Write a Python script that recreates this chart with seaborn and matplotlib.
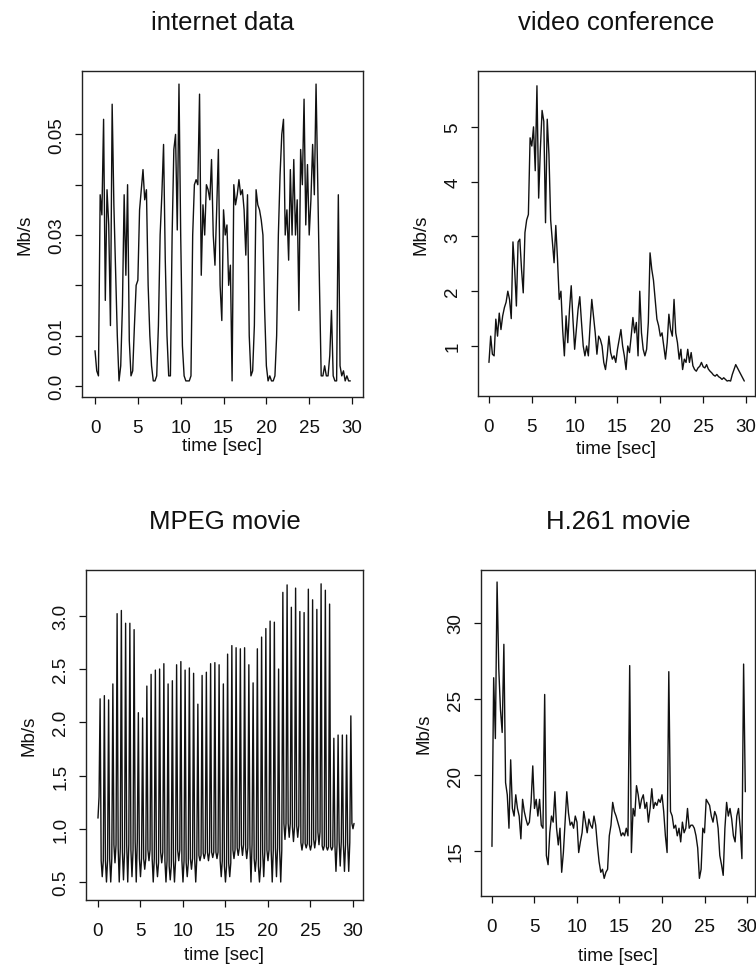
import numpy as np
import pandas as pd
import seaborn as sns
import matplotlib.pyplot as plt

# rates, one value every 0.2 s
internet = [0.007, 0.003, 0.002, 0.038, 0.034, 0.053, 0.017, 0.039, 0.032, 0.012,
            0.056, 0.036, 0.023, 0.010, 0.001, 0.004, 0.016, 0.038, 0.022, 0.040,
            0.009, 0.002, 0.003, 0.012, 0.020, 0.021, 0.035, 0.039, 0.043, 0.037,
            0.039, 0.020, 0.010, 0.004, 0.001, 0.001, 0.002, 0.012, 0.030, 0.038,
            0.048, 0.025, 0.010, 0.002, 0.002, 0.030, 0.047, 0.050, 0.031, 0.060,
            0.030, 0.008, 0.002, 0.001, 0.001, 0.001, 0.002, 0.030, 0.040, 0.041,
            0.040, 0.058, 0.022, 0.036, 0.030, 0.040, 0.039, 0.037, 0.045, 0.030,
            0.024, 0.035, 0.047, 0.020, 0.013, 0.035, 0.030, 0.032, 0.020, 0.024,
            0.001, 0.040, 0.036, 0.038, 0.041, 0.038, 0.039, 0.035, 0.026, 0.038,
            0.010, 0.002, 0.003, 0.012, 0.039, 0.036, 0.035, 0.033, 0.030, 0.015,
            0.004, 0.001, 0.002, 0.001, 0.001, 0.002, 0.010, 0.030, 0.042, 0.050,
            0.053, 0.030, 0.035, 0.025, 0.043, 0.030, 0.045, 0.030, 0.037, 0.015,
            0.047, 0.040, 0.057, 0.032, 0.044, 0.030, 0.037, 0.048, 0.038, 0.060,
            0.040, 0.020, 0.002, 0.002, 0.004, 0.002, 0.002, 0.006, 0.015, 0.002,
            0.001, 0.001, 0.038, 0.004, 0.002, 0.003, 0.001, 0.002, 0.001, 0.001]

video = [0.70, 1.18, 0.85, 0.82, 1.49, 1.18, 1.60, 1.30, 1.55, 1.70,
         1.80, 2.00, 1.85, 1.50, 2.90, 2.40, 1.73, 2.90, 2.95, 2.40,
         1.97, 3.07, 3.30, 3.40, 4.80, 4.65, 5.00, 4.20, 5.75, 3.70,
         4.60, 5.30, 5.10, 3.25, 5.14, 4.50, 3.30, 2.90, 2.52, 3.20,
         2.58, 1.85, 2.00, 1.30, 0.82, 1.55, 1.06, 1.67, 2.10, 1.49,
         0.94, 1.30, 1.67, 1.90, 1.43, 1.00, 0.82, 1.00, 0.82, 1.37,
         1.85, 1.55, 1.24, 0.85, 1.18, 1.12, 1.00, 0.70, 0.57, 0.82,
         1.18, 0.88, 0.76, 0.82, 0.70, 0.94, 1.12, 1.30, 1.00, 0.82,
         0.57, 1.00, 0.88, 1.18, 1.52, 1.24, 1.43, 0.82, 2.00, 1.24,
         0.94, 0.82, 0.94, 1.43, 2.70, 2.40, 2.20, 1.85, 1.49, 1.37,
         1.18, 1.24, 1.00, 0.76, 1.06, 1.58, 1.30, 1.18, 1.85, 1.24,
         1.06, 0.76, 0.94, 0.57, 0.76, 0.70, 0.94, 0.70, 0.88, 0.64,
         0.57, 0.54, 0.60, 0.63, 0.70, 0.62, 0.60, 0.66, 0.58, 0.54,
         0.51, 0.47, 0.45, 0.48, 0.44, 0.42, 0.39, 0.42, 0.39, 0.36,
         0.37, 0.36, 0.48, 0.57, 0.66, 0.60, 0.54, 0.48, 0.42, 0.36]

h261 = [15.3, 26.4, 22.4, 32.7, 27.0, 24.3, 22.8, 28.6, 19.5, 18.7,
        16.5, 21.0, 17.8, 17.3, 18.7, 17.8, 17.3, 15.8, 18.4, 17.6,
        17.1, 16.7, 16.9, 18.2, 20.6, 17.8, 18.4, 17.3, 18.4, 16.7,
        16.5, 25.3, 14.7, 14.1, 16.2, 17.3, 16.9, 18.9, 16.5, 15.4,
        16.5, 13.6, 14.9, 16.9, 18.9, 17.5, 16.7, 16.9, 16.5, 17.3,
        16.9, 14.9, 15.6, 16.2, 17.6, 16.9, 16.2, 17.1, 16.7, 16.5,
        17.3, 16.7, 15.4, 14.3, 13.6, 13.8, 13.2, 13.6, 13.8, 16.0,
        16.7, 18.2, 17.6, 17.3, 16.9, 16.5, 16.0, 16.2, 16.0, 16.5,
        16.0, 27.2, 14.9, 17.8, 17.3, 19.3, 18.7, 17.8, 18.4, 18.7,
        17.8, 18.2, 16.9, 17.8, 19.1, 17.8, 18.2, 18.0, 18.4, 18.2,
        18.7, 17.6, 16.0, 14.9, 26.8, 17.6, 17.3, 16.5, 16.7, 16.0,
        16.5, 15.6, 16.9, 16.2, 16.5, 17.8, 16.5, 16.7, 16.7, 16.5,
        16.0, 15.2, 13.2, 13.8, 16.5, 16.2, 18.4, 18.2, 18.0, 17.3,
        16.9, 17.6, 17.3, 16.5, 14.7, 14.1, 13.4, 16.5, 18.2, 17.3,
        17.8, 17.1, 16.0, 15.6, 17.3, 17.8, 16.5, 14.5, 27.3, 18.9]

# MPEG: one I-frame peak every 0.5 s, with the level and the lowest dip in between
mpeg_lead = [1.10, 1.30]
mpeg_peak = [2.22, 2.25, 2.21, 2.36, 3.02, 3.05, 2.93, 2.93, 2.87, 2.09,
             2.04, 2.34, 2.45, 2.49, 2.50, 2.55, 2.36, 2.39, 2.54, 2.57,
             2.49, 2.51, 2.46, 2.17, 2.44, 2.47, 2.55, 2.56, 2.54, 2.36,
             2.64, 2.72, 2.70, 2.69, 2.70, 2.54, 2.37, 2.69, 2.80, 2.88,
             2.95, 2.94, 2.50, 3.22, 3.29, 3.08, 3.26, 3.04, 3.03, 3.25,
             3.15, 3.06, 3.30, 3.24, 3.11, 1.85, 1.88, 1.88, 1.88, 2.06]
mpeg_base = [0.70, 0.70, 0.72, 0.85, 0.82, 0.78, 0.85, 0.80, 0.88, 0.72,
             0.72, 0.80, 0.72, 0.68, 0.78, 0.70, 0.65, 0.70, 0.80, 0.70,
             0.68, 0.72, 0.72, 0.75, 0.77, 0.78, 0.78, 0.78, 0.70, 0.65,
             0.68, 0.80, 0.82, 0.85, 0.82, 0.85, 0.72, 0.65, 0.78, 0.80,
             0.80, 0.82, 0.80, 1.05, 1.05, 1.02, 1.03, 0.87, 0.86, 0.85,
             0.90, 0.97, 0.84, 0.83, 0.83, 0.85, 0.88, 0.85, 0.87, 1.05]
mpeg_dip = [0.55, 0.50, 0.50, 0.68, 0.50, 0.52, 0.50, 0.55, 0.50, 0.55,
            0.62, 0.70, 0.50, 0.55, 0.68, 0.50, 0.52, 0.50, 0.70, 0.50,
            0.55, 0.62, 0.50, 0.70, 0.72, 0.70, 0.73, 0.72, 0.55, 0.50,
            0.55, 0.72, 0.75, 0.75, 0.72, 0.50, 0.60, 0.50, 0.55, 0.70,
            0.50, 0.55, 0.50, 0.90, 0.92, 0.88, 0.92, 0.80, 0.82, 0.80,
            0.82, 0.85, 0.80, 0.80, 0.80, 0.60, 0.65, 0.60, 0.60, 1.00]

mpeg = list(mpeg_lead)
for pk, b, d in zip(mpeg_peak, mpeg_base, mpeg_dip):
    mpeg += [pk, b, d, b]


def to_df(vals, dt):
    return pd.DataFrame({'t': np.arange(len(vals)) * dt, 'rate': vals})


sns.set_theme(style="ticks")
plt.rcParams['font.family'] = ['Liberation Sans', 'DejaVu Sans']
plt.rcParams['axes.linewidth'] = 1.0

W, H = 756, 978
fig = plt.figure(figsize=(W / 100, H / 100), dpi=100)

# title, data, box in pixels (l, r, t, b), x limits, y limits, y ticks, y tick labels,
# pixel centre of the x label
panels = [
    ("internet data", to_df(internet, 0.2), (82, 363, 72, 398), (-1.52, 31.28),
     (-0.0022, 0.0626), [0, 0.01, 0.02, 0.03, 0.04, 0.05],
     ["0.0", "0.01", "", "0.03", "", "0.05"], 447),
    ("video conference", to_df(video, 0.2), (478, 755, 72, 397), (-1.28, 31.05),
     (0.087, 6.02), [1, 2, 3, 4, 5], ["1", "2", "3", "4", "5"], 450),
    ("MPEG movie", to_df(mpeg, 0.125), (86, 363, 571, 901), (-1.41, 31.18),
     (0.331, 3.43), [0.5, 1.0, 1.5, 2.0, 2.5, 3.0],
     ["0.5", "1.0", "1.5", "2.0", "2.5", "3.0"], 956),
    ("H.261 movie", to_df(h261, 0.2), (481, 755, 571, 897), (-1.29, 30.94),
     (12.04, 33.49), [15, 20, 25, 30], ["15", "20", "25", "30"], 957),
]

for title, df, (l, r, t, b), xlim, ylim, yt, ytl, xl_y in panels:
    ax = fig.add_axes([l / W, 1 - b / H, (r - l) / W, (b - t) / H])
    sns.lineplot(data=df, x='t', y='rate', ax=ax, color='#111111',
                 linewidth=1.0, estimator=None, errorbar=None)
    ax.set_xlim(*xlim)
    ax.set_ylim(*ylim)
    ax.set_xticks([0, 5, 10, 15, 20, 25, 30])
    ax.set_yticks(yt)
    ax.set_yticklabels(ytl)
    ax.tick_params(direction='out', length=5, width=0.9, labelsize=13.5,
                   colors='#111111')
    ax.tick_params(axis='x', pad=11)
    ax.tick_params(axis='y', pad=7, labelrotation=90)
    for lab in ax.get_yticklabels():
        lab.set_va('center')
    for sp in ax.spines.values():
        sp.set_visible(True)
        sp.set_color('#222222')
    ax.set_xlabel("time [sec]", fontsize=13.5, color='#111111')
    ax.set_ylabel("Mb/s", fontsize=13.5, color='#111111')
    ax.xaxis.label.set_va('center')
    ax.yaxis.label.set_va('center')
    ax.xaxis.set_label_coords(0.5, (b - xl_y) / (b - t))
    ax.yaxis.set_label_coords(-57 / (r - l), 0.5)
    fig.text((l + r) / 2 / W, 1 - (t - 49) / H, title, ha='center', va='center',
             fontsize=18.5, color='#111111')

fig.savefig("out.png", dpi=100, facecolor='white')
